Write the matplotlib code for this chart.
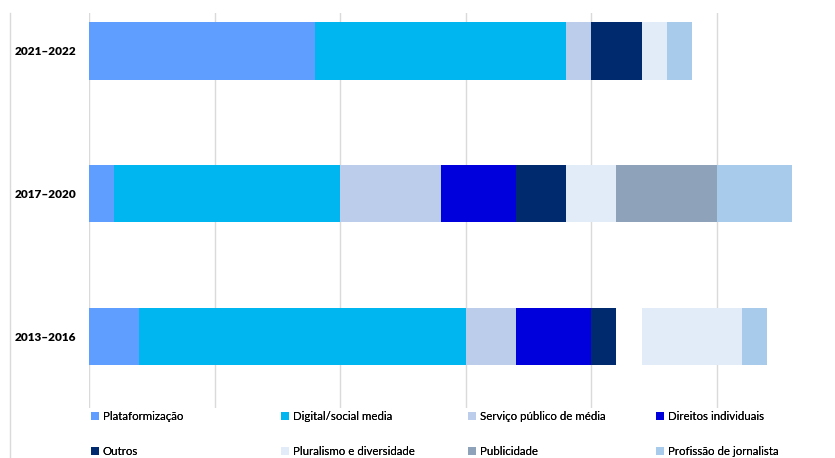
import numpy as np
import matplotlib.pyplot as plt
from matplotlib.patches import Patch
from matplotlib.lines import Line2D

plt.rcParams['font.family'] = ['Lato', 'DejaVu Sans']

# categorias (de cima para baixo)
periodos = ['2021–2022', '2017–2020', '2013–2016']

series = ['Plataformização', 'Digital/social media', 'Serviço público de média',
          'Direitos individuais', 'Outros', 'Pluralismo e diversidade',
          'Publicidade', 'Profissão de jornalista']
cores = ['#5F9EFF', '#00B6F0', '#BCCDEB', '#0000DC', '#002A6E', '#E1ECF8',
         '#8EA2B9', '#A8CAEB']

plataformizacao = [9, 1, 2]
digital = [10, 9, 13]
servico = [1, 4, 2]
direitos = [0, 3, 3]
outros = [2, 2, 1]
vazio = [0, 0, 1]   # espaço em branco no gráfico original
pluralismo = [1, 2, 4]
publicidade = [0, 4, 0]
profissao = [1, 3, 1]

valores = [plataformizacao, digital, servico, direitos, outros, vazio,
           pluralismo, publicidade, profissao]
cores_barras = cores[:5] + ['white'] + cores[5:]

fig = plt.figure(figsize=(8.35, 4.58), dpi=100)
ax = fig.add_axes([89/835, 1 - 408/458, 1 - 89/835, (408 - 13)/458])

y = np.arange(len(periodos))[::-1]
esq = np.zeros(len(periodos))
for v, c in zip(valores, cores_barras):
    ax.barh(y, v, left=esq, height=0.4, color=c, zorder=2)
    esq += np.array(v)

ax.set_xlim(0, 29.7)
ax.set_ylim(-0.5, 2 + (51 - 13) / 143)
ax.set_xticks(np.arange(0, 30, 5))
ax.tick_params(axis='x', labelbottom=False, length=0)
ax.grid(axis='x', color='#DADADA', linewidth=1, zorder=0)
ax.set_yticks(y)
ax.set_yticklabels(periodos, fontweight='heavy', fontsize=8.5)
ax.tick_params(axis='y', length=0, pad=9)
for s in ax.spines.values():
    s.set_visible(False)

# linha vertical à esquerda
fig.add_artist(Line2D([10/835, 10/835], [0, 1 - 13/458], color='#DADADA', linewidth=1))

# legenda: 4 colunas, 2 linhas (preenchida por linha)
x_col = [91, 281, 468, 656]
for j, xc in enumerate(x_col):
    idx = [j, j + 4]
    leg = fig.legend([Patch(facecolor=cores[i], edgecolor='none') for i in idx],
                     [series[i] for i in idx], loc='upper left',
                     bbox_to_anchor=(xc/835, 1 - 411/458), frameon=False,
                     fontsize=8.3, handlelength=0.7, handleheight=0.7,
                     handletextpad=0.3, labelspacing=2.05, borderaxespad=0,
                     borderpad=0)
    fig.add_artist(leg)

fig.savefig('out.png', dpi=100)
